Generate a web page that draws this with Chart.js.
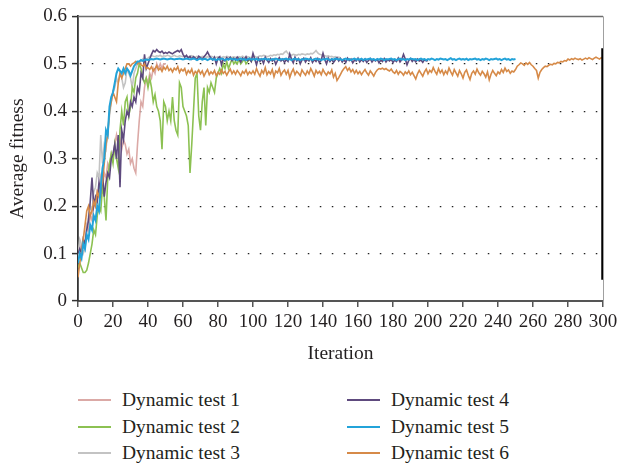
<!DOCTYPE html>
<html>
<head>
<meta charset="utf-8">
<script src="https://cdn.jsdelivr.net/npm/chart.js@4/dist/chart.umd.min.js"></script>
<style>
  html, body { margin: 0; padding: 0; background: #fff; }
  body { width: 622px; height: 465px; position: relative; overflow: hidden; font-family: 'Liberation Serif', 'Times New Roman', serif; color: #231f20; }
  #wrap { position: absolute; left: 0; top: 0; width: 622px; height: 370px; }
  #legend { position: absolute; left: 78px; top: 387px; display: grid; grid-template-columns: 269px 269px; grid-template-rows: repeat(3, 26.5px); grid-auto-flow: column; }
  .item { display: flex; align-items: center; font-size: 19.5px; white-space: nowrap; }
  .swatch { display: inline-block; width: 33px; height: 2px; margin-right: 11px; }
</style>
</head>
<body>
<div id="wrap"><canvas id="c"></canvas></div>
<div id="legend"></div>
<script>
const seriesNames = ['Dynamic test 1', 'Dynamic test 2', 'Dynamic test 3', 'Dynamic test 4', 'Dynamic test 5', 'Dynamic test 6'];
const seriesColors = ['#dba9a6', '#8cc152', '#c3c3c3', '#5e4a7e', '#23a3d9', '#d68a48'];
const drawOrder = [6, 4, 5, 3, 1, 2];

const xTicks = [0, 20, 40, 60, 80, 100, 120, 140, 160, 180, 200, 220, 240, 260, 280, 300];
const yTickLabels = ['0', '0.1', '0.2', '0.3', '0.4', '0.5', '0.6'];

// Dynamic test 1 (iterations 0..50)
const test1 = [0.10,0.12,0.10,0.13,0.12,0.16,0.15,0.18,0.17,0.21,
0.20,0.23,0.22,0.26,0.24,0.27,0.26,0.29,0.28,0.31,
0.30,0.33,0.35,0.33,0.34,0.32,0.34,0.33,0.31,0.32,
0.29,0.30,0.28,0.27,0.33,0.38,0.42,0.41,0.45,0.47,
0.46,0.48,0.47,0.49,0.48,0.50,0.49,0.50,0.49,0.50,0.50];

// Dynamic test 2 (iterations 0..100)
const test2 = [0.07,0.08,0.07,0.06,0.06,0.065,0.08,0.10,0.12,0.15,
0.14,0.18,0.20,0.19,0.24,0.22,0.17,0.26,0.29,0.31,
0.29,0.33,0.30,0.28,0.36,0.40,0.37,0.42,0.43,0.39,
0.41,0.45,0.44,0.47,0.48,0.50,0.49,0.47,0.46,0.47,
0.45,0.47,0.45,0.42,0.435,0.41,0.40,0.38,0.32,0.42,
0.41,0.38,0.40,0.38,0.43,0.38,0.36,0.35,0.46,0.45,
0.41,0.40,0.39,0.37,0.27,0.33,0.40,0.47,0.48,0.39,
0.36,0.42,0.45,0.37,0.45,0.44,0.46,0.45,0.44,0.47,
0.48,0.49,0.48,0.50,0.49,0.505,0.49,0.50,0.51,0.50,
0.505,0.50,0.51,0.50,0.505,0.51,0.50,0.505,0.51,0.505,0.51];

// Dynamic test 3 (iterations 0..150)
const test3 = [0.09,0.13,0.12,0.10,0.11,0.15,0.18,0.20,0.19,0.23,
0.24,0.27,0.26,0.35,0.29,0.33,0.32,0.36,0.39,0.42,
0.44,0.45,0.47,0.46,0.48,0.47,0.45,0.46,0.49,0.48,
0.47,0.45,0.48,0.49,0.50,0.50,0.505,0.51,0.50,0.51,
0.512,0.515,0.518,0.516,0.515,0.517,0.516,0.518,0.515,0.517,
0.516,0.518,0.517,0.515,0.516,0.518,0.516,0.515,0.517,0.516,
0.515,0.517,0.516,0.514,0.515,0.517,0.515,0.514,0.516,0.515,
0.514,0.516,0.515,0.513,0.515,0.514,0.516,0.515,0.513,0.514,
0.515,0.514,0.513,0.515,0.514,0.516,0.515,0.513,0.514,0.515,
0.514,0.513,0.515,0.514,0.516,0.514,0.513,0.515,0.514,0.513,
0.515,0.516,0.514,0.515,0.517,0.516,0.518,0.517,0.515,0.516,
0.518,0.517,0.519,0.518,0.520,0.519,0.521,0.520,0.524,0.527,
0.522,0.519,0.518,0.520,0.519,0.518,0.520,0.519,0.521,0.520,
0.519,0.521,0.520,0.522,0.521,0.524,0.528,0.523,0.520,0.519,
0.518,0.517,0.516,0.517,0.515,0.516,0.514,0.515,0.513,0.514,0.513];

// Dynamic test 4 (iterations 0..200)
const test4 = [0.10,0.11,0.10,0.13,0.12,0.15,0.17,0.21,0.26,0.20,
0.22,0.21,0.25,0.23,0.27,0.22,0.25,0.27,0.26,0.30,
0.31,0.33,0.30,0.35,0.24,0.36,0.34,0.38,0.40,0.39,
0.42,0.41,0.43,0.42,0.45,0.44,0.48,0.47,0.52,0.49,
0.50,0.51,0.52,0.528,0.525,0.530,0.526,0.524,0.527,0.522,
0.524,0.522,0.525,0.523,0.521,0.524,0.526,0.528,0.525,0.530,
0.520,0.514,0.518,0.512,0.516,0.510,0.515,0.512,0.509,0.516,
0.513,0.510,0.515,0.519,0.525,0.518,0.512,0.508,0.514,0.500,
0.512,0.515,0.498,0.510,0.506,0.513,0.509,0.514,0.507,0.512,
0.508,0.514,0.510,0.504,0.512,0.509,0.515,0.507,0.511,0.505,
0.522,0.510,0.498,0.512,0.505,0.510,0.501,0.514,0.508,0.503,
0.511,0.506,0.510,0.499,0.507,0.513,0.506,0.510,0.503,0.509,
0.505,0.521,0.510,0.502,0.514,0.506,0.511,0.500,0.508,0.512,
0.504,0.510,0.506,0.513,0.503,0.509,0.505,0.511,0.502,0.508,
0.522,0.509,0.500,0.512,0.505,0.510,0.503,0.508,0.513,0.506,
0.511,0.504,0.509,0.503,0.512,0.507,0.510,0.502,0.508,0.506,
0.512,0.504,0.509,0.505,0.510,0.503,0.507,0.511,0.504,0.509,
0.506,0.510,0.502,0.508,0.505,0.511,0.504,0.509,0.506,0.510,
0.503,0.508,0.505,0.512,0.504,0.509,0.520,0.510,0.498,0.507,
0.511,0.505,0.509,0.504,0.510,0.506,0.508,0.503,0.509,0.506,0.507];

// Dynamic test 5 (iterations 0..250)
const test5 = [0.08,0.10,0.09,0.12,0.11,0.14,0.13,0.16,0.15,0.18,
0.17,0.20,0.19,0.24,0.28,0.30,0.36,0.35,0.41,0.43,
0.44,0.46,0.48,0.49,0.485,0.48,0.49,0.48,0.49,0.485,
0.475,0.485,0.495,0.500,0.505,0.505,0.508,0.506,0.508,0.509,
0.508,0.509,0.510,0.509,0.510,0.511,0.510,0.509,0.510,0.511,
0.510,0.509,0.510,0.511,0.510,0.509,0.510,0.510,0.511,0.510,
0.509,0.510,0.511,0.510,0.509,0.510,0.511,0.510,0.508,0.510,
0.511,0.509,0.510,0.510,0.508,0.510,0.511,0.509,0.510,0.508,
0.510,0.509,0.511,0.510,0.508,0.510,0.509,0.511,0.510,0.509,
0.510,0.508,0.510,0.511,0.509,0.510,0.508,0.510,0.511,0.509,
0.510,0.509,0.511,0.508,0.510,0.509,0.510,0.511,0.509,0.510,
0.508,0.510,0.509,0.511,0.510,0.508,0.510,0.509,0.510,0.511,
0.509,0.510,0.508,0.510,0.511,0.509,0.510,0.508,0.510,0.509,
0.511,0.510,0.509,0.510,0.508,0.510,0.511,0.509,0.510,0.508,
0.510,0.509,0.511,0.510,0.508,0.510,0.509,0.511,0.510,0.509,
0.510,0.508,0.510,0.511,0.509,0.510,0.508,0.510,0.511,0.509,
0.510,0.509,0.511,0.508,0.510,0.509,0.510,0.511,0.509,0.510,
0.508,0.510,0.509,0.511,0.510,0.508,0.510,0.509,0.510,0.511,
0.509,0.510,0.508,0.510,0.511,0.509,0.510,0.508,0.510,0.509,
0.511,0.510,0.509,0.510,0.508,0.510,0.511,0.509,0.510,0.508,
0.510,0.509,0.511,0.510,0.508,0.510,0.509,0.511,0.510,0.509,
0.510,0.508,0.510,0.512,0.509,0.510,0.508,0.510,0.511,0.509,
0.510,0.509,0.511,0.508,0.510,0.509,0.510,0.511,0.509,0.510,
0.508,0.510,0.509,0.511,0.510,0.508,0.510,0.509,0.510,0.511,
0.509,0.510,0.508,0.510,0.511,0.509,0.510,0.508,0.510,0.509,0.510];

// Dynamic test 6 (iterations 0..300)
const test6 = [0.05,0.08,0.10,0.13,0.16,0.19,0.20,0.18,0.19,0.21,
0.20,0.23,0.22,0.24,0.25,0.29,0.33,0.35,0.40,0.42,
0.44,0.43,0.42,0.46,0.48,0.47,0.48,0.49,0.50,0.50,
0.495,0.500,0.502,0.505,0.500,0.503,0.498,0.495,0.500,0.490,
0.492,0.488,0.494,0.485,0.490,0.496,0.487,0.491,0.484,0.493,
0.488,0.495,0.486,0.490,0.483,0.491,0.487,0.494,0.482,0.489,
0.485,0.490,0.478,0.486,0.481,0.489,0.476,0.484,0.480,0.487,
0.479,0.485,0.474,0.482,0.488,0.477,0.483,0.479,0.486,0.475,
0.482,0.478,0.487,0.480,0.484,0.476,0.483,0.489,0.479,0.485,
0.478,0.486,0.481,0.475,0.484,0.480,0.487,0.477,0.483,0.479,
0.485,0.478,0.490,0.481,0.474,0.486,0.480,0.492,0.477,0.484,
0.479,0.488,0.473,0.485,0.481,0.490,0.476,0.483,0.487,0.478,
0.486,0.471,0.482,0.489,0.477,0.484,0.480,0.475,0.487,0.481,
0.476,0.485,0.479,0.490,0.483,0.474,0.486,0.480,0.484,0.477,
0.488,0.481,0.476,0.483,0.479,0.487,0.472,0.480,0.465,0.471,
0.478,0.485,0.490,0.494,0.486,0.491,0.483,0.488,0.480,0.486,
0.479,0.484,0.477,0.483,0.488,0.481,0.476,0.485,0.480,0.474,
0.482,0.487,0.490,0.489,0.491,0.488,0.490,0.487,0.485,0.489,
0.483,0.480,0.486,0.478,0.484,0.481,0.476,0.483,0.479,0.485,
0.477,0.482,0.475,0.468,0.479,0.486,0.480,0.474,0.483,0.489,
0.479,0.486,0.482,0.492,0.484,0.478,0.490,0.481,0.487,0.477,
0.485,0.479,0.491,0.483,0.476,0.488,0.481,0.474,0.486,0.479,
0.470,0.482,0.487,0.476,0.467,0.480,0.485,0.478,0.489,0.481,
0.476,0.484,0.479,0.472,0.483,0.466,0.478,0.486,0.480,0.475,
0.483,0.479,0.488,0.482,0.491,0.484,0.487,0.480,0.485,0.483,
0.488,0.495,0.498,0.502,0.500,0.497,0.502,0.499,0.503,0.498,
0.495,0.490,0.486,0.470,0.482,0.488,0.492,0.495,0.494,0.497,
0.499,0.498,0.501,0.500,0.503,0.502,0.505,0.504,0.507,0.506,
0.510,0.508,0.511,0.509,0.512,0.510,0.509,0.511,0.508,0.510,
0.512,0.510,0.513,0.511,0.509,0.512,0.514,0.512,0.510,0.513,0.511];

// thick black vertical mark at the right end of the plot
const endMarkX = [300, 300];
const endMarkY = [0.045, 0.533];

const allSeries = [test1, test2, test3, test4, test5, test6];

const datasets = allSeries.map((arr, k) => ({
  label: seriesNames[k],
  data: arr.map((v, i) => ({ x: i, y: v })),
  borderColor: seriesColors[k],
  backgroundColor: seriesColors[k],
  borderWidth: k === 4 ? 2 : 1.6,
  pointRadius: 0,
  tension: 0,
  fill: false,
  order: drawOrder[k]
}));
datasets.push({
  label: 'end',
  data: endMarkX.map((x, i) => ({ x: x, y: endMarkY[i] })),
  borderColor: '#000',
  borderWidth: 3.5,
  pointRadius: 0,
  fill: false,
  order: 0
});

const framePlugin = {
  id: 'frame',
  afterDatasetsDraw(chart) {
    const { ctx, chartArea: a } = chart;
    ctx.save();
    ctx.strokeStyle = '#6d6d6d';
    ctx.lineWidth = 1.5;
    ctx.beginPath();
    ctx.moveTo(a.left, a.top);
    ctx.lineTo(a.right, a.top);
    ctx.stroke();
    ctx.strokeStyle = '#a0a0a0';
    ctx.lineWidth = 1;
    ctx.beginPath();
    ctx.moveTo(a.right + 0.5, a.top);
    ctx.lineTo(a.right + 0.5, a.bottom);
    ctx.stroke();
    ctx.restore();
  }
};

const serif = "'Liberation Serif', 'Times New Roman', serif";
const textColor = '#231f20';

new Chart(document.getElementById('c'), {
  type: 'line',
  data: { datasets: datasets },
  options: {
    responsive: true,
    maintainAspectRatio: false,
    animation: false,
    layout: { padding: { left: 0, right: 19, top: 15, bottom: 0 } },
    plugins: { legend: { display: false }, tooltip: { enabled: false } },
    scales: {
      x: {
        type: 'linear',
        min: 0, max: 300,
        afterFit(scale) { scale.height = 69; },
        afterBuildTicks(scale) { scale.ticks = xTicks.map(v => ({ value: v })); },
        ticks: {
          autoSkip: false, maxRotation: 0, padding: 4,
          color: textColor, font: { family: serif, size: 19 },
          callback: (v) => String(v)
        },
        grid: { drawOnChartArea: false, drawTicks: true, tickLength: 6, color: '#555', lineWidth: 1.5 },
        border: { display: true, color: '#555', width: 2 },
        title: { display: true, text: 'Iteration', color: textColor, font: { family: serif, size: 19.5 }, padding: { top: 0, bottom: 4.3 } }
      },
      y: {
        min: 0, max: 0.6,
        afterFit(scale) { scale.width = 78; },
        ticks: {
          stepSize: 0.1, padding: 5,
          color: textColor, font: { family: serif, size: 19 },
          callback: (v, i) => yTickLabels[i]
        },
        grid: {
          drawTicks: true, tickLength: 6, lineWidth: 1.2,
          color: (c) => (c.tick && (c.tick.value < 0.01 || c.tick.value > 0.59)) ? 'rgba(0,0,0,0)' : '#222',
          tickColor: '#333', tickWidth: 1.5, tickBorderDash: []
        },
        border: { display: true, color: '#333', width: 1.8, dash: [1.5, 10.5], dashOffset: 11 },
        title: { display: true, text: 'Average fitness', color: textColor, font: { family: serif, size: 19.5 }, padding: { top: 6, bottom: 0 } }
      }
    }
  },
  plugins: [framePlugin]
});

// HTML legend built from the series names and colours (column-major, 2 columns)
const legend = document.getElementById('legend');
seriesNames.forEach((name, k) => {
  const item = document.createElement('div');
  item.className = 'item';
  const sw = document.createElement('span');
  sw.className = 'swatch';
  sw.style.background = seriesColors[k];
  const tx = document.createElement('span');
  tx.textContent = name;
  item.appendChild(sw);
  item.appendChild(tx);
  legend.appendChild(item);
});
</script>
</body>
</html>
